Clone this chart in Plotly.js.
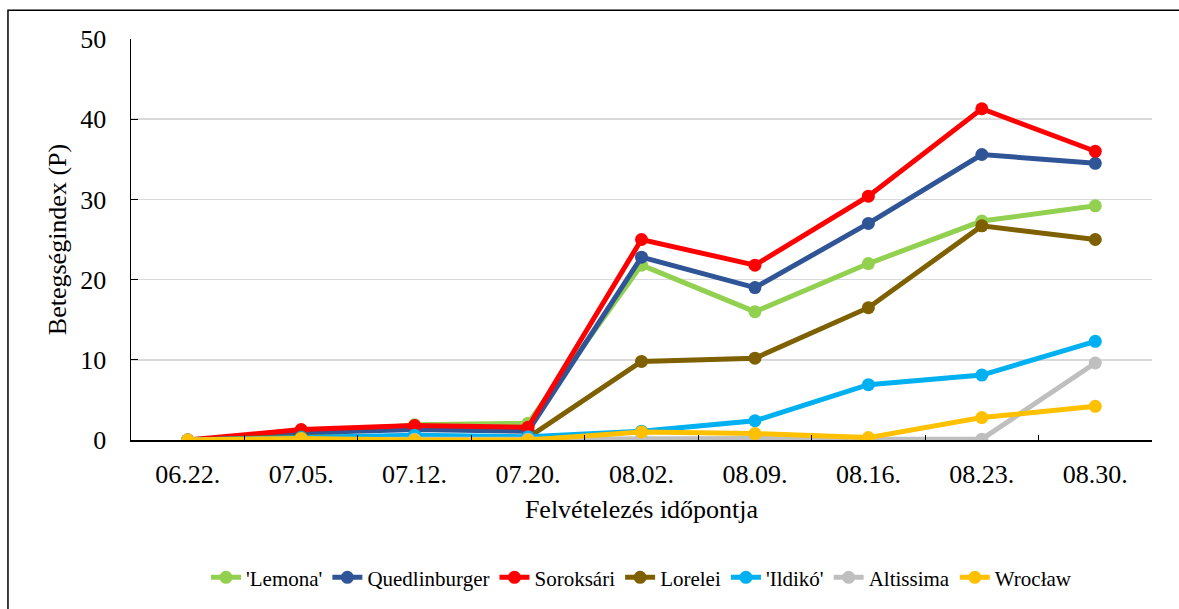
<!DOCTYPE html>
<html><head><meta charset="utf-8">
<script src="https://cdn.plot.ly/plotly-3.0.1.min.js"></script>
<style>html,body{margin:0;padding:0;background:#fff}#chart{width:1179px;height:609px}</style>
</head><body><div id="chart"></div>
<script>
const dates = ['06.22.','07.05.','07.12.','07.20.','08.02.','08.09.','08.16.','08.23.','08.30.'];
const lemona        = [0, 0.6, 1.9, 2.1, 21.8, 16.0, 22.0, 27.3, 29.2];
const quedlinburger = [0, 0.9, 1.3, 1.1, 22.8, 19.0, 27.0, 35.6, 34.5];
const soroksari     = [0, 1.3, 1.8, 1.6, 25.0, 21.8, 30.4, 41.3, 36.0];
const lorelei       = [0, 0.4, 0.3, 0.3, 9.8, 10.2, 16.5, 26.7, 25.0];
const ildiko        = [0, 0.3, 0.6, 0.4, 1.1, 2.4, 6.9, 8.1, 12.3];
const altissima     = [0, 0.1, 0.1, 0.1, 0.2, 0.2, 0.1, 0.1, 9.6];
const wroclaw       = [0, 0.2, 0.0, 0.0, 1.0, 0.8, 0.3, 2.8, 4.2];
const names  = ["'Lemona'", 'Quedlinburger', 'Soroksári', 'Lorelei', "'Ildikó'", 'Altissima', 'Wrocław'];
const series = [lemona, quedlinburger, soroksari, lorelei, ildiko, altissima, wroclaw];
const colors = ['#92D050', '#2F5597', '#FF0000', '#7F6000', '#00B0F0', '#BFBFBF', '#FFC000'];

const traces = series.map((s, i) => ({
  x: dates, y: s, name: names[i], type: 'scatter', mode: 'lines+markers',
  line: {color: colors[i], width: 5},
  marker: {color: colors[i], size: 13}
}));

const font = {family: 'Liberation Serif', color: '#000'};
const layout = {
  width: 1179, height: 609,
  margin: {l: 131, r: 27, t: 39, b: 168},
  paper_bgcolor: '#fff', plot_bgcolor: '#fff',
  font: Object.assign({size: 21}, font),
  showlegend: true,
  legend: {orientation: 'h', x: 0.5, xanchor: 'center', y: -0.34, yanchor: 'middle',
           font: Object.assign({size: 21}, font), tracegroupgap: 0},
  xaxis: {
    type: 'category', showgrid: false, showline: true, linecolor: '#000', linewidth: 1.5,
    ticks: 'inside', tickson: 'boundaries', ticklen: 5, tickcolor: '#000',
    ticklabelstandoff: 10,
    tickfont: Object.assign({size: 26}, font),
    title: {text: 'Felvételezés időpontja', font: Object.assign({size: 26}, font), standoff: 12},
    range: [-0.5, 8.5], zeroline: false
  },
  yaxis: {
    range: [0, 50], dtick: 10, showgrid: true, gridcolor: '#d9d9d9', gridwidth: 1.5,
    showline: true, linecolor: '#000', linewidth: 1.5, ticks: 'inside', ticklen: 7, tickcolor: '#000',
    ticklabelstandoff: 18,
    tickfont: Object.assign({size: 26}, font), zeroline: false,
    title: {text: 'Betegségindex (P)', font: Object.assign({size: 26}, font), standoff: 6}
  },
  shapes: [{type: 'rect', xref: 'paper', yref: 'paper',
            x0: -0.1205, x1: 1.05, y0: -0.45, y1: 1.072,
            line: {color: '#000', width: 1.5}, fillcolor: 'rgba(0,0,0,0)', layer: 'below'}]
};
Plotly.newPlot('chart', traces, layout, {displayModeBar: false, staticPlot: true});
</script></body></html>
